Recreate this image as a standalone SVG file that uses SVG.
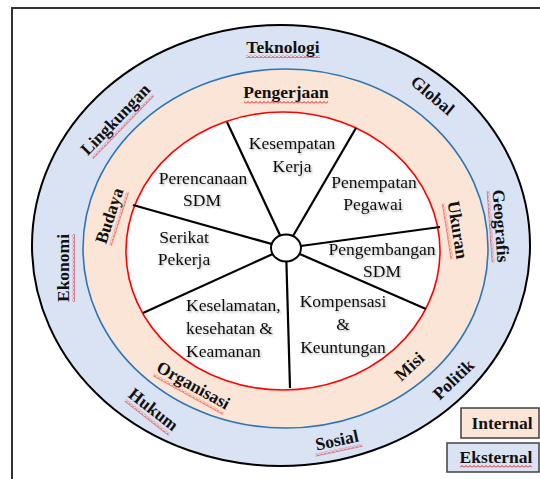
<svg xmlns="http://www.w3.org/2000/svg" width="540" height="479" viewBox="0 0 540 479">
<defs>
<pattern id="wavy" patternUnits="userSpaceOnUse" width="4" height="3">
<polyline points="0,2.5 2,0.5 4,2.5" fill="none" stroke="#e00000" stroke-width="0.9"/>
</pattern>
<filter id="shadow" x="-10%" y="-30%" width="130%" height="170%">
<feDropShadow dx="1.2" dy="1.5" stdDeviation="1" flood-color="#000" flood-opacity="0.3"/>
</filter>
</defs>
<style>
.lbl{font-family:"Liberation Serif","Times New Roman",serif;font-weight:bold;font-size:17.5px;fill:#111;text-anchor:middle}
.in{font-family:"Liberation Serif","Times New Roman",serif;font-size:17.5px;fill:#111;text-anchor:middle;filter:url(#shadow)}
.sq{fill:url(#wavy)}
.spoke{stroke:#000;stroke-width:2.2;fill:none}
</style>
<rect x="0" y="0" width="540" height="479" fill="#fff"/>
<rect id="frame" x="12" y="8" width="600" height="600" fill="none" stroke="#333" stroke-width="2"/>

<g id="ring-external">
<ellipse cx="281" cy="245.5" rx="249" ry="220.5" fill="#dae3f3" stroke="#000" stroke-width="2"/>
</g>
<g id="ring-internal">
<ellipse cx="285.5" cy="248.5" rx="202.5" ry="179.5" fill="#fbe5d6" stroke="#2e75b6" stroke-width="1.6"/>
</g>
<g id="ring-core">
<ellipse cx="283" cy="251" rx="157" ry="139" fill="#fff" stroke="#ff0000" stroke-width="1.6"/>
</g>

<g id="connectors">
<line class="spoke" x1="286" y1="248" x2="227" y2="122"/>
<line class="spoke" x1="286" y1="248" x2="356" y2="128"/>
<line class="spoke" x1="286" y1="248" x2="133" y2="205"/>
<line class="spoke" x1="286" y1="248" x2="440" y2="227"/>
<line class="spoke" x1="286" y1="248" x2="426" y2="309"/>
<line class="spoke" x1="286" y1="248" x2="290" y2="388"/>
<line class="spoke" x1="286" y1="248" x2="143" y2="313"/>
</g>
<g id="hub">
<ellipse cx="286" cy="248" rx="15" ry="13.5" fill="#fff" stroke="#000" stroke-width="2"/>
</g>

<g id="n-kesempatan"><text class="in" x="292" y="149">Kesempatan</text><text class="in" x="292" y="172">Kerja</text></g>
<g id="n-perencanaan"><text class="in" x="203" y="184">Perencanaan</text><text class="in" x="202" y="206">SDM</text></g>
<g id="n-penempatan"><text class="in" x="374" y="188">Penempatan</text><text class="in" x="373" y="210">Pegawai</text></g>
<g id="n-serikat"><text class="in" x="184" y="243">Serikat</text><text class="in" x="184" y="265">Pekerja</text></g>
<g id="n-pengembangan"><text class="in" x="382" y="255">Pengembangan</text><text class="in" x="382" y="277">SDM</text></g>
<g id="n-keselamatan"><text class="in" x="186" y="311" style="text-anchor:start">Keselamatan,</text><text class="in" x="186" y="334" style="text-anchor:start">kesehatan &amp;</text><text class="in" x="186" y="357" style="text-anchor:start">Keamanan</text></g>
<g id="n-kompensasi"><text class="in" x="343" y="307">Kompensasi</text><text class="in" x="343" y="330">&amp;</text><text class="in" x="343" y="353">Keuntungan</text></g>

<g id="l-teknologi" transform="translate(283,47)"><text class="lbl" x="0" y="6">Teknologi</text><rect class="sq" x="-37" y="8" width="74" height="3"/></g>
<g id="l-pengerjaan" transform="translate(286,92)"><text class="lbl" x="0" y="5.5">Pengerjaan</text><rect class="sq" x="-42" y="9" width="84" height="3"/></g>
<g id="l-global" transform="translate(432,96) rotate(40)"><text class="lbl" x="0" y="5">Global</text></g>
<g id="l-lingkungan" transform="translate(116,120) rotate(-46)"><text class="lbl" x="0" y="5">Lingkungan</text><rect class="sq" x="-44" y="8" width="88" height="3"/></g>
<g id="l-ekonomi" transform="translate(64,268) rotate(-90)"><text class="lbl" x="0" y="5">Ekonomi</text><rect class="sq" x="-34" y="8" width="68" height="3"/></g>
<g id="l-budaya" transform="translate(110,216) rotate(-72)"><text class="lbl" x="0" y="5">Budaya</text><rect class="sq" x="-28" y="8" width="56" height="3"/></g>
<g id="l-geografis" transform="translate(500,226) rotate(86)"><text class="lbl" x="0" y="5">Geografis</text><rect class="sq" x="-36" y="8" width="72" height="3"/></g>
<g id="l-ukuran" transform="translate(457,230) rotate(81)"><text class="lbl" x="0" y="5">Ukuran</text><rect class="sq" x="-28" y="8" width="56" height="3"/></g>
<g id="l-hukum" transform="translate(153,410) rotate(38)"><text class="lbl" x="0" y="5">Hukum</text><rect class="sq" x="-28" y="8" width="56" height="3"/></g>
<g id="l-organisasi" transform="translate(193,386) rotate(29)"><text class="lbl" x="0" y="5">Organisasi</text><rect class="sq" x="-40" y="8" width="80" height="3"/></g>
<g id="l-sosial" transform="translate(337,441) rotate(-12)"><text class="lbl" x="0" y="5">Sosial</text><rect class="sq" x="-24" y="8" width="48" height="3"/></g>
<g id="l-misi" transform="translate(410,367) rotate(-43)"><text class="lbl" x="0" y="5">Misi</text></g>
<g id="l-politik" transform="translate(454,380) rotate(-44)"><text class="lbl" x="0" y="5">Politik</text></g>

<g id="legend-internal"><rect x="461" y="408" width="78" height="30" fill="#fbe5d6" stroke="#404040" stroke-width="1.5"/><text class="lbl" x="502" y="429">Internal</text></g>
<g id="legend-eksternal"><rect x="447" y="443" width="92" height="29" fill="#dae3f3" stroke="#404040" stroke-width="1.5"/><text class="lbl" x="496" y="463">Eksternal</text><rect class="sq" x="460" y="465" width="72" height="3"/></g>
</svg>
